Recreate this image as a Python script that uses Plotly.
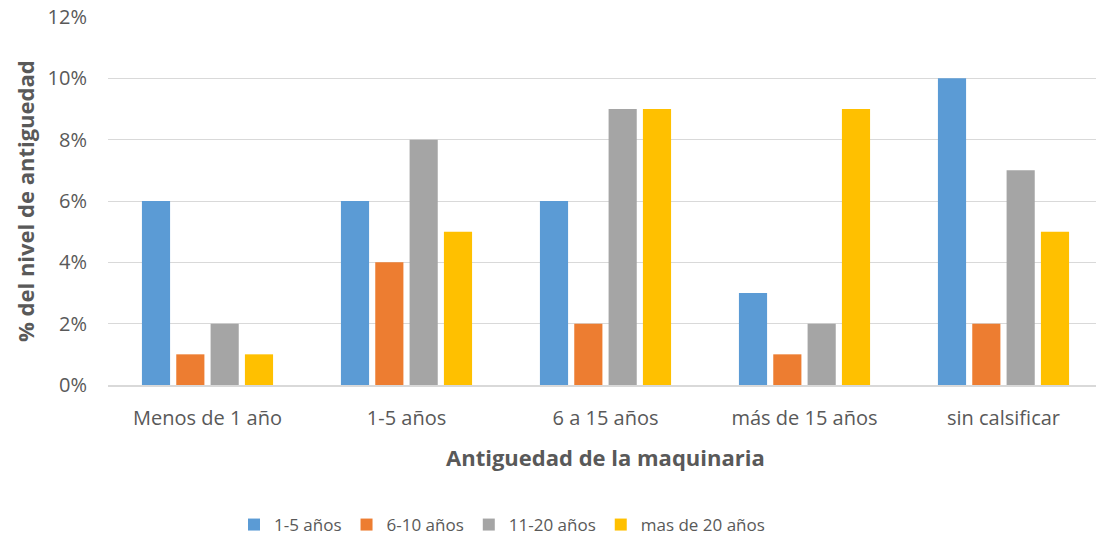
import plotly.graph_objects as go

categories = ["Menos de 1 año", "1-5 años", "6 a 15 años", "más de 15 años", "sin calsificar"]
series_names = ["1-5 años", "6-10 años", "11-20 años", "mas de 20 años"]
v_1_5 = [0.06, 0.06, 0.06, 0.03, 0.10]
v_6_10 = [0.01, 0.04, 0.02, 0.01, 0.02]
v_11_20 = [0.02, 0.08, 0.09, 0.02, 0.07]
v_20p = [0.01, 0.05, 0.09, 0.09, 0.05]
colors = ["#5B9BD5", "#ED7D31", "#A5A5A5", "#FFC000"]

FONT = "Open Sans, sans-serif"
GREY = "#595959"

fig = go.Figure()
for name, vals, c in zip(series_names, [v_1_5, v_6_10, v_11_20, v_20p], colors):
    fig.add_trace(go.Bar(x=list(range(len(categories))), y=vals, name=name,
                         marker=dict(color=c, line=dict(width=0))))

W, H = 1096, 539
L, R, T, B = 108, 0, 17, 154
pw = W - L - R
ph = H - T - B
span = pw / 199.0
y0 = T + ph  # figure y of the 0% line

fig.update_layout(
    width=W, height=H,
    margin=dict(l=L, r=R, t=T, b=B, autoexpand=False),
    paper_bgcolor="white", plot_bgcolor="white",
    barmode="group", bargap=0.31, bargroupgap=0.18,
    font=dict(family=FONT, size=17, color=GREY),
    showlegend=True,
    legend=dict(orientation="h", x=(502 - L) / pw, xanchor="center",
                y=(y0 - 525) / ph, yanchor="middle",
                font=dict(family=FONT, size=17, color=GREY),
                itemwidth=30, traceorder="normal"),
    xaxis=dict(tickmode="array", tickvals=list(range(len(categories))), ticktext=categories,
               range=[-0.5, -0.5 + span], showgrid=False, showline=True,
               linecolor="#D9D9D9", linewidth=1.5, ticks="", zeroline=False,
               ticklabelstandoff=14, ticklabeloverflow="allow",
               tickfont=dict(family=FONT, size=20, color=GREY)),
    yaxis=dict(range=[0, 0.12], tickmode="array",
               tickvals=[0, 0.02, 0.04, 0.06, 0.08, 0.10, 0.12],
               tickformat=".0%", showgrid=True,
               gridcolor="#D9D9D9", gridwidth=1, zeroline=False, ticks="",
               ticklabelstandoff=20, ticklabeloverflow="allow",
               tickfont=dict(family=FONT, size=20, color=GREY)),
    annotations=[
        dict(text="<b>% del nivel de antiguedad</b>", xref="paper", yref="paper",
             x=(25 - L) / pw, y=0.5, xanchor="center", yanchor="middle",
             textangle=-90, showarrow=False,
             font=dict(family=FONT, size=22, color=GREY)),
        dict(text="<b>Antiguedad de la maquinaria</b>", xref="paper", yref="paper",
             x=(605 - L) / pw, y=(y0 - 457) / ph, xanchor="center", yanchor="middle",
             showarrow=False, font=dict(family=FONT, size=22, color=GREY)),
    ],
)

# remove the browser's default 8px body margin so the figure fills the window exactly
fig.write_html("out.html", config={"displayModeBar": False},
               post_script="document.body.style.margin='0';")
